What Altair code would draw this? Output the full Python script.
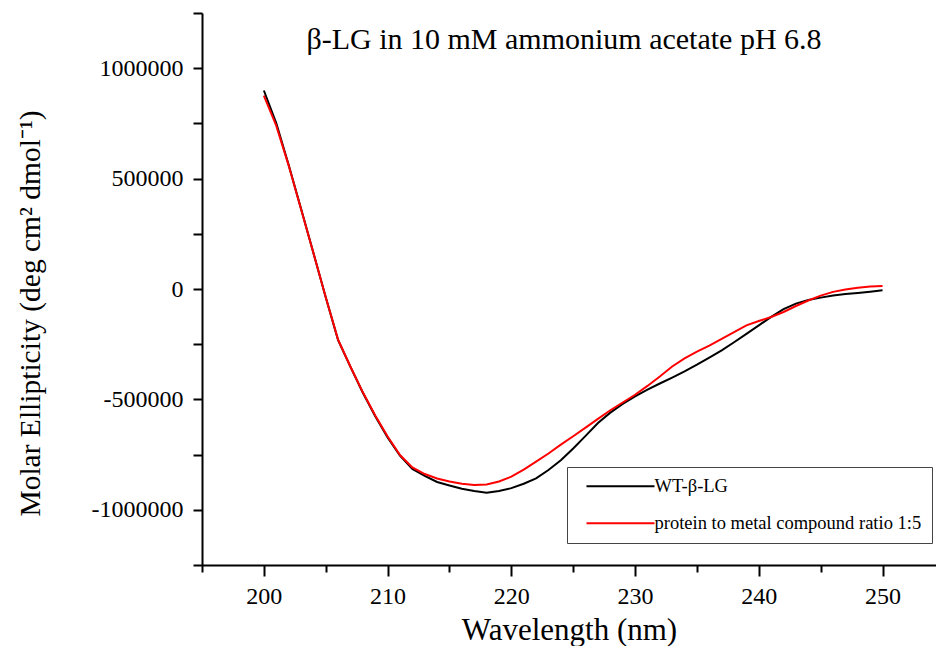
import altair as alt
import pandas as pd

FONT = "Liberation Serif"

wavelength = list(range(200, 251))

wt_values = [
    899000, 752000, 563000, 365000, 164000, -37000, -232000, -353000, -470000, -576000,
    -672000, -755000, -815000, -846000, -874000, -890000, -905000, -915000, -923000, -915000,
    -902000, -882000, -858000, -820000, -776000, -722000, -665000, -607000, -560000, -520000,
    -486000, -456000, -428000, -401000, -373000, -343000, -311000, -278000, -241000, -203000,
    -165000, -126000, -91000, -66000, -50000, -39000, -29000, -23000, -18000, -12000,
    -6000,
]

ratio_values = [
    876000, 740000, 560000, 362000, 164000, -37000, -230000, -352000, -468000, -573000,
    -668000, -752000, -808000, -838000, -858000, -872000, -882000, -888000, -885000, -872000,
    -850000, -818000, -782000, -745000, -705000, -667000, -628000, -588000, -549000, -514000,
    -479000, -439000, -396000, -351000, -314000, -284000, -256000, -226000, -195000, -165000,
    -145000, -127000, -104000, -77000, -52000, -30000, -13000, -2000, 6000, 11000,
    14000,
]

series_names = ["WT-\u03b2-LG", "protein to metal compound ratio 1:5"]
series_colors = ["#000000", "#ff0000"]

x_major = [200, 210, 220, 230, 240, 250]
x_minor = [195, 205, 215, 225, 235, 245]
y_major = [-1000000, -500000, 0, 500000, 1000000]
y_minor = [-1250000, -750000, -250000, 250000, 750000, 1250000]

rows = []
for name, vals in zip(series_names, [wt_values, ratio_values]):
    for w, v in zip(wavelength, vals):
        rows.append({"wavelength": w, "ellipticity": v, "series": name})
df = pd.DataFrame(rows)

x_scale = alt.Scale(domain=[195, 254.32], nice=False, zero=False)
y_scale = alt.Scale(domain=[-1250000, 1250000], nice=False, zero=False)

lines = alt.Chart(df).mark_line(strokeWidth=2).encode(
    x=alt.X(
        "wavelength:Q",
        scale=x_scale,
        axis=alt.Axis(
            values=x_major,
            orient="bottom",
            title="Wavelength (nm)",
            tickSize=11,
            labelPadding=8,
            titleFontSize=31,
            titleY=74,
            titleBaseline="alphabetic",
        ),
    ),
    y=alt.Y(
        "ellipticity:Q",
        scale=y_scale,
        axis=alt.Axis(
            values=y_major,
            orient="left",
            labelExpr="'' + datum.value",
            title="Molar Ellipticity (deg cm\u00b2 dmol\u207b\u00b9)",
            tickSize=9,
            labelPadding=10,
            titleFontSize=29.5,
            titleX=-172,
            titleY=300,
            titleBaseline="middle",
        ),
    ),
    color=alt.Color(
        "series:N",
        scale=alt.Scale(domain=series_names, range=series_colors),
        sort=series_names,
        legend=alt.Legend(
            title=None,
            orient="none",
            legendX=365,
            legendY=454,
            direction="vertical",
            symbolType="M0.03,0H8.53",
            symbolSize=256,
            symbolStrokeWidth=2,
            labelFont=FONT,
            labelFontSize=18.5,
            labelColor="black",
            labelOffset=59,
            labelLimit=0,
            padding=10,
            rowPadding=18,
            strokeColor="#444444",
            fillColor="white",
        ),
    ),
)

minor = alt.Chart(df).mark_line(opacity=0).encode(
    x=alt.X(
        "wavelength:Q",
        scale=x_scale,
        axis=alt.Axis(
            values=x_minor,
            orient="bottom",
            labels=False,
            domain=False,
            tickSize=7,
            title=None,
        ),
    ),
    y=alt.Y(
        "ellipticity:Q",
        scale=y_scale,
        axis=alt.Axis(
            values=y_minor,
            orient="left",
            labels=False,
            domain=False,
            tickSize=9,
            title=None,
        ),
    ),
    detail="series:N",
)

chart = (
    alt.layer(lines, minor)
    .resolve_scale(x="shared", y="shared")
    .resolve_axis(x="independent", y="independent")
    .properties(
        width=734,
        height=552,
        autosize=alt.AutoSizeParams(type="none"),
        padding={"left": 194, "top": 5, "right": 0, "bottom": 81},
        title=alt.Title(
            "\u03b2-LG in 10 mM ammonium acetate pH 6.8",
            font=FONT,
            fontSize=30,
            fontWeight="normal",
            color="black",
            anchor="middle",
            frame="group",
            offset=0,
            baseline="alphabetic",
            dy=67,
            dx=-5,
        ),
    )
    .configure_view(stroke=None)
    .configure_axis(
        domainColor="black",
        domainWidth=2,
        tickColor="black",
        tickWidth=2,
        labelFont=FONT,
        labelFontSize=24,
        labelColor="black",
        titleFont=FONT,
        titleColor="black",
        titleFontWeight="normal",
        grid=False,
    )
)

chart.save("out.html", embed_options={"renderer": "svg", "actions": False})
